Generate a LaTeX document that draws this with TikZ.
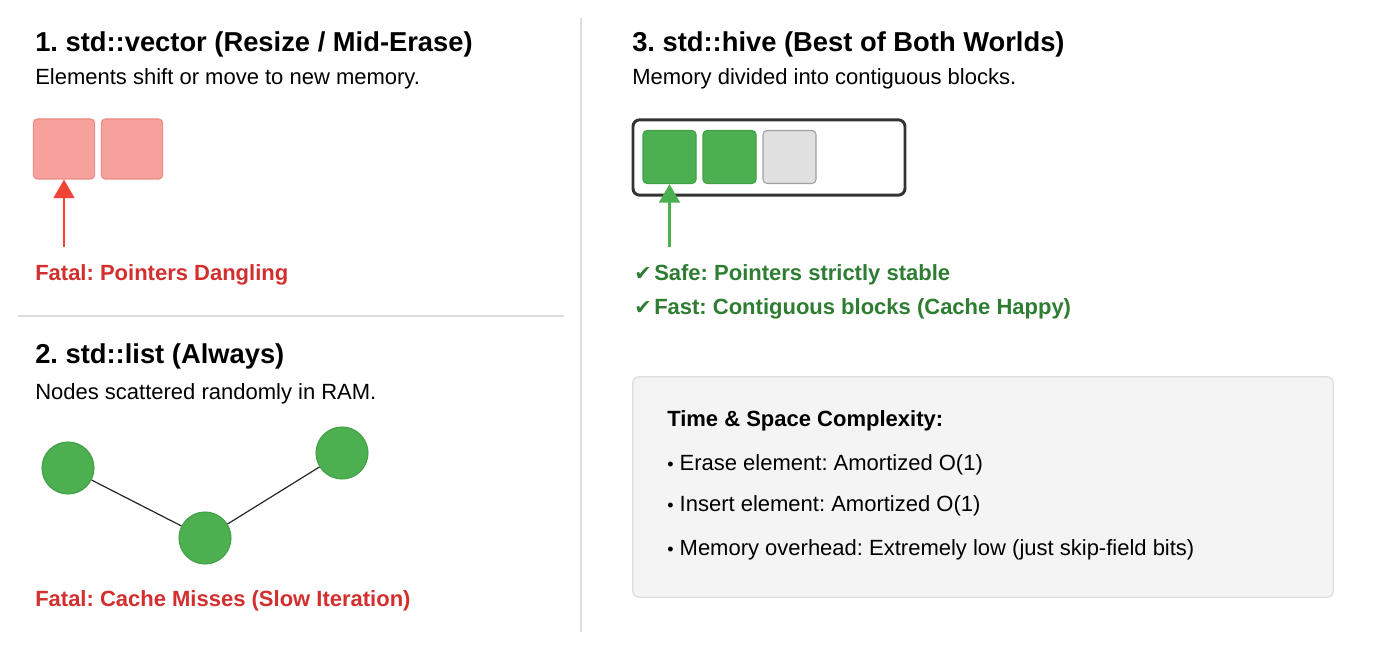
\documentclass[tikz,border=0pt]{standalone}
\usepackage{fontspec}
\setmainfont{Liberation Sans}
\newfontfamily\symfont{DejaVu Sans}
\usepackage{xcolor}
\usepackage{tikz}
\usetikzlibrary{arrows.meta}
\frenchspacing

\definecolor{divgray}{HTML}{DDDDDD}
\definecolor{badred}{HTML}{F44336}
\definecolor{badtext}{HTML}{D32F2F}
\definecolor{badfill}{HTML}{F6A19B}
\definecolor{baddraw}{HTML}{EC8A84}
\definecolor{okgreen}{HTML}{4CAF50}
\definecolor{okdraw}{HTML}{43A047}
\definecolor{oktext}{HTML}{2E7D32}
\definecolor{freefill}{HTML}{E0E0E0}
\definecolor{freedraw}{HTML}{A0A0A0}
\definecolor{panelfill}{HTML}{F4F4F4}

\begin{document}
\begin{tikzpicture}[x=0.75pt, y=-0.75pt,
	title/.style={anchor=base west, inner sep=0pt, font=\fontsize{20.5}{24}\selectfont\bfseries},
	desc/.style={anchor=base west, inner sep=0pt, font=\fontsize{16.5}{20}\selectfont},
	badnote/.style={desc, text=badtext, font=\fontsize{16.5}{20}\selectfont\bfseries},
	oknote/.style={desc, text=oktext, font=\fontsize{16.5}{20}\selectfont\bfseries}]
					\fill[white] (0, 0) rectangle (1400, 648);
					\useasboundingbox (0, 0) rectangle (1400, 648);
					
					\draw[divgray, line width=2.2pt] (581, 18) -- (581, 632);
					\draw[divgray, line width=2.2pt] (18, 316) -- (564, 316);
					
					\node[title] (T1) at (35, 52) {1. std::vector (Resize / Mid-Erase)};
					\node[desc] (S1) at (35, 85) {Elements shift or move to new memory.};
					\node[badnote] (F1) at (35, 281) {Fatal: Pointers Dangling};
					
					\node[title] (T2) at (35, 364) {2. std::list (Always)};
					\node[desc] (S2) at (35, 400) {Nodes scattered randomly in RAM.};
					\node[badnote] (F2) at (35, 606) {Fatal: Cache Misses (Slow Iteration)};
					
					\node[title] (T3) at (632, 52) {3. std::hive (Best of Both Worlds)};
					\node[desc] (S3) at (632, 85) {Memory divided into contiguous blocks.};
					\node[oknote] (G1) at (634, 281) {{\symfont\fontsize{15.5}{18}\selectfont ✔}\hspace{2pt}Safe: Pointers strictly stable};
					\node[oknote] (G2) at (634, 315) {{\symfont\fontsize{15.5}{18}\selectfont ✔}\hspace{2pt}Fast: Contiguous blocks (Cache Happy)};
					
					\begin{scope}[
						cell/.style={draw, rounded corners=3pt, line width=0.8pt, minimum width=46pt, minimum height=45pt, inner sep=0pt},
						slot/.style={draw, rounded corners=3pt, line width=0.8pt, minimum size=39.75pt, inner sep=0pt},
						elem/.style={circle, draw=okdraw, fill=okgreen, line width=0.8pt, minimum size=39pt, inner sep=0pt}]
						\node[cell, fill=badfill, draw=baddraw] (V1) at (64, 149) {};
						\node[cell, fill=badfill, draw=baddraw] (V2) at (132, 149) {};
						
						\node[draw=black!80, line width=2.2pt, rounded corners=5pt, minimum width=204pt, minimum height=56.5pt] (H) at (769, 157.5) {};
						\node[slot, fill=okgreen, draw=okdraw] (H1) at (669.5, 157) {};
						\node[slot, fill=okgreen, draw=okdraw] (H2) at (729.5, 157) {};
						\node[slot, fill=freefill, draw=freedraw] (H3) at (789.5, 157) {};
						
						\node[elem] (L1) at (68, 468) {};
						\node[elem] (L2) at (205, 538) {};
						\node[elem] (L3) at (342, 453) {};
					\end{scope}
					
					\coordinate (PV) at (64, 247);
					\coordinate (PH) at (669.5, 247);
					\draw[-{Triangle[length=14pt, width=15.5pt]}, badred, line width=2.2pt] (PV) -- (V1.south);
					\draw[-{Triangle[length=14pt, width=15.5pt]}, okgreen, line width=2.2pt] (PH) -- (H1.south);
					
					\draw[-, line width=0.9pt, black!85] (L1) -- (L2);
					\draw[-, line width=0.9pt, black!85] (L2) -- (L3);
					
					\node[draw=divgray, fill=panelfill, line width=0.9pt, rounded corners=5pt, minimum width=525.5pt, minimum height=165.5pt] (C) at (983, 487) {};
					\node[desc, font=\fontsize{16.5}{20}\selectfont\bfseries] (C0) at (667, 427) {Time \& Space Complexity:};
					\node[desc] (C1) at (667, 470) {{\fontsize{13.5}{16}\selectfont\textbullet}\ Erase element: Amortized O(1)};
					\node[desc] (C2) at (667, 512) {{\fontsize{13.5}{16}\selectfont\textbullet}\ Insert element: Amortized O(1)};
					\node[desc] (C3) at (667, 555) {{\fontsize{13.5}{16}\selectfont\textbullet}\ Memory overhead: Extremely low (just skip-field bits)};
				\end{tikzpicture}
\end{document}
